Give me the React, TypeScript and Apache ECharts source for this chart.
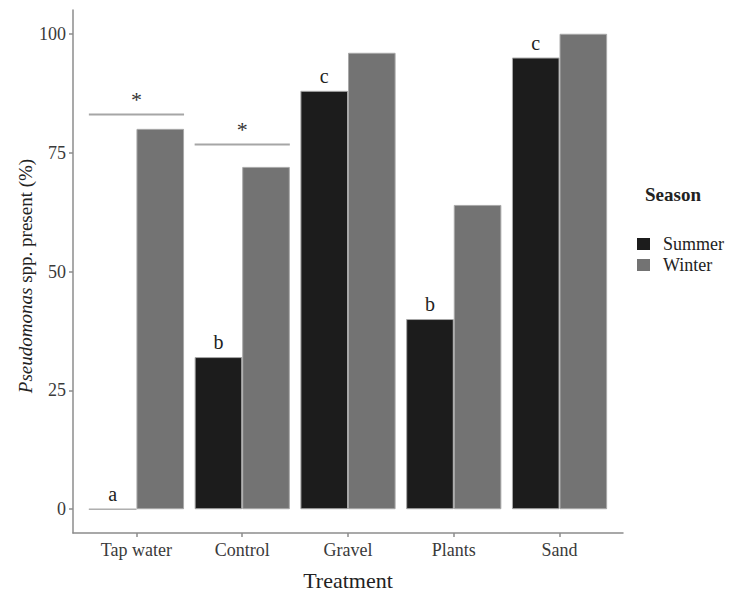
import React, { useEffect, useRef } from "react";
import * as echarts from "echarts";

const categories = ["Tap water", "Control", "Gravel", "Plants", "Sand"];
const summerValues = [0, 32, 88, 40, 95];
const winterValues = [80, 72, 96, 64, 100];
const summerLetters = ["a", "b", "c", "b", "c"];
const sigCategoryIndex = [1, 2];
const sigHeights = [83, 76.7];
const yTicks = [0, 25, 50, 75, 100];
const xPositions = [1, 2, 3, 4, 5];

const FONT = '"Liberation Serif", "DejaVu Serif", serif';

export default function App() {
  const ref = useRef<HTMLDivElement>(null);
  useEffect(() => {
    document.body.style.margin = "0";
    if (!ref.current) return;
    const chart = echarts.init(ref.current, undefined, { renderer: "svg" });
    const axisLineStyle = { color: "#8c8c8c", width: 1.5 };
    chart.setOption({
      animation: false,
      grid: { left: 73, right: 106, top: 10, bottom: 59 },
      legend: {
        orient: "vertical",
        left: 632,
        top: 230,
        icon: "rect",
        itemWidth: 13,
        itemHeight: 12,
        itemGap: 3,
        data: ["Summer", "Winter"],
        itemStyle: { borderWidth: 0 },
        textStyle: { fontFamily: FONT, fontSize: 18, color: "#222", padding: [0, 0, 0, 8] },
      },
      graphic: [
        {
          type: "text",
          left: 645,
          top: 185,
          style: { text: "Season", font: `bold 19px ${FONT}`, fill: "#222" },
        },
        {
          type: "text",
          x: 25,
          y: 276,
          rotation: Math.PI / 2,
          style: {
            text: "{i|Pseudomonas} spp. present (%)",
            fontFamily: FONT,
            fontSize: 19,
            fill: "#222",
            align: "center",
            verticalAlign: "middle",
            rich: {
              i: { fontStyle: "italic", fontFamily: FONT, fontSize: 19, fill: "#222" },
            },
          },
        },
      ],
      xAxis: {
        type: "value",
        min: 0.4,
        max: 5.6,
        position: "bottom",
        name: "Treatment",
        nameLocation: "middle",
        nameGap: 36,
        nameTextStyle: { fontFamily: FONT, fontSize: 22, color: "#222" },
        axisLine: { show: true, onZero: false, lineStyle: axisLineStyle },
        axisTick: { show: true, length: 4, customValues: xPositions, lineStyle: axisLineStyle },
        axisLabel: {
          customValues: xPositions,
          margin: 8,
          fontFamily: FONT,
          fontSize: 18,
          color: "#3a3a3a",
          formatter: (v: number) => categories[Math.round(v) - 1] ?? "",
        },
        splitLine: { show: false },
      },
      yAxis: {
        type: "value",
        min: -5,
        max: 105,
        axisLine: { show: true, lineStyle: axisLineStyle },
        axisTick: { show: true, length: 4, customValues: yTicks, lineStyle: axisLineStyle },
        axisLabel: {
          customValues: yTicks,
          margin: 7,
          fontFamily: FONT,
          fontSize: 18,
          color: "#3a3a3a",
        },
        splitLine: { show: false },
      },
      series: [
        {
          name: "Summer",
          type: "bar",
          barCategoryGap: "10%",
          barGap: "0%",
          data: summerValues.map((v, i) => [xPositions[i], v]),
          itemStyle: { color: "#1c1c1c", borderColor: "#a8a8a8", borderWidth: 1 },
          label: {
            show: true,
            position: "top",
            distance: 5,
            fontFamily: FONT,
            fontSize: 20,
            color: "#222",
            formatter: (p: any) => summerLetters[p.dataIndex],
          },
        },
        {
          name: "Winter",
          type: "bar",
          barCategoryGap: "10%",
          barGap: "0%",
          data: winterValues.map((v, i) => [xPositions[i], v]),
          itemStyle: { color: "#737373", borderColor: "#a8a8a8", borderWidth: 1 },
        },
        {
          type: "custom",
          data: sigCategoryIndex.map((c, i) => [c, sigHeights[i]]),
          renderItem: (params: any, api: any) => {
            const p = api.coord([api.value(0), api.value(1)]);
            const w = api.size([0.9, 0])[0];
            return {
              type: "group",
              children: [
                {
                  type: "line",
                  shape: { x1: p[0] - w / 2, y1: p[1], x2: p[0] + w / 2, y2: p[1] },
                  style: { stroke: "#a6a6a6", lineWidth: 2 },
                },
                {
                  type: "text",
                  x: p[0],
                  y: p[1] - 15,
                  style: {
                    text: "*",
                    font: `22px ${FONT}`,
                    fill: "#333",
                    align: "center",
                    verticalAlign: "middle",
                  },
                },
              ],
            };
          },
        },
      ],
    });
    return () => chart.dispose();
  }, []);
  return <div ref={ref} style={{ width: 729, height: 596 }} />;
}
